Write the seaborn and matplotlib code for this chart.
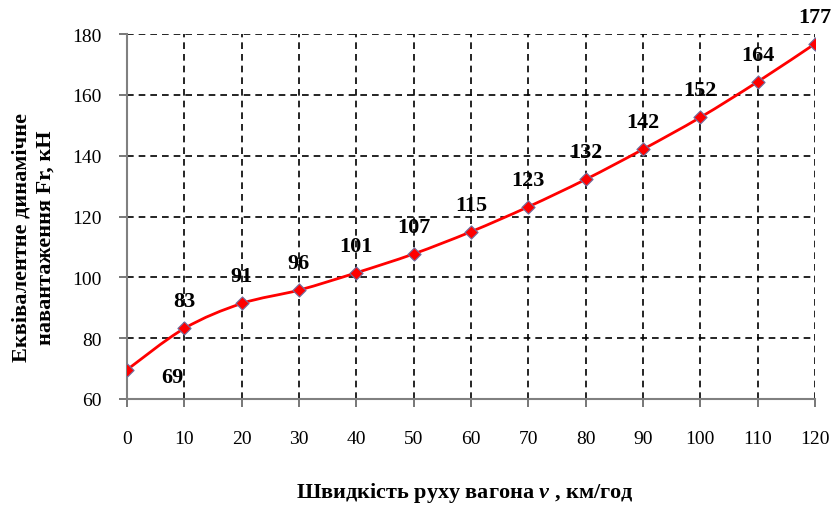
import matplotlib
matplotlib.use("Agg")
import matplotlib.pyplot as plt
import seaborn as sns
import numpy as np
import pandas as pd
from matplotlib.path import Path
from matplotlib.patches import PathPatch

speed = [0, 10, 20, 30, 40, 50, 60, 70, 80, 90, 100, 110, 120]
force = [69.6, 83.2, 91.4, 95.8, 101.5, 107.7, 115.0, 123.2, 132.2, 142.1, 152.6, 164.3, 176.8]
labels = ["69", "83", "91", "96", "101", "107", "115", "123", "132", "142", "152", "164", "177"]
yticks = [60, 80, 100, 120, 140, 160, 180]
xticks = [0, 10, 20, 30, 40, 50, 60, 70, 80, 90, 100, 110, 120]


def smooth_path(x, y, t=1 / 6):
    # Catmull-Rom style bezier, like Excel's smoothed line
    x = np.asarray(x, float)
    y = np.asarray(y, float)
    verts = [(x[0], y[0])]
    codes = [Path.MOVETO]
    n = len(x)
    for i in range(n - 1):
        p0 = max(i - 1, 0)
        p3 = min(i + 2, n - 1)
        c1 = (x[i] + (x[i + 1] - x[p0]) * t, y[i] + (y[i + 1] - y[p0]) * t)
        c2 = (x[i + 1] - (x[p3] - x[i]) * t, y[i + 1] - (y[p3] - y[i]) * t)
        verts += [c1, c2, (x[i + 1], y[i + 1])]
        codes += [Path.CURVE4] * 3
    return Path(verts, codes)


def main():
    sns.set_style("white")
    plt.rcParams["font.family"] = ["Liberation Serif", "DejaVu Serif"]
    plt.rcParams["text.color"] = "black"
    plt.rcParams["mathtext.fontset"] = "custom"
    plt.rcParams["mathtext.bfit"] = "Liberation Serif:italic:bold"

    df = pd.DataFrame({"speed": speed, "force": force})

    fig = plt.figure(figsize=(8.32, 5.06), dpi=100)
    ax = fig.add_axes([0.1526, 0.2095, 0.827, 0.7213])

    ax.add_patch(PathPatch(smooth_path(speed, force), fill=False,
                           edgecolor="#ff0000", lw=2, zorder=3))
    sns.scatterplot(data=df, x="speed", y="force", ax=ax, marker="D", s=45,
                    color="#ff0000", edgecolor="#7070a0", linewidth=0.8, zorder=4)

    for i, (xv, yv, lab) in enumerate(zip(speed, force, labels)):
        offset = (45, -7) if i == 0 else (0, 27)
        ax.annotate(lab, (xv, yv), xytext=offset, textcoords="offset pixels",
                    ha="center", va="center", fontsize=16, fontweight="bold",
                    color="black")

    ax.set_xlim(0, 120)
    ax.set_ylim(60, 180)
    ax.set_xticks(xticks)
    ax.set_yticks(yticks)
    ax.grid(True, color="black", linestyle=(0, (4, 3)), linewidth=1.2)
    ax.set_axisbelow(True)

    for side in ["top", "right"]:
        ax.spines[side].set_visible(False)
    for side in ["left", "bottom"]:
        ax.spines[side].set_color("#808080")
        ax.spines[side].set_linewidth(1.5)

    ax.tick_params(axis="both", direction="out", length=6, width=1.2,
                   color="#606060", labelsize=14, labelcolor="black",
                   left=True, bottom=True)
    ax.tick_params(axis="x", pad=16)
    ax.tick_params(axis="y", pad=12)
    ax.set_xlabel("")
    ax.set_ylabel("")

    fig.text(0.559, 0.0257, "Швидкість руху вагона $\\mathbfit{v}$ , км/год",
             fontsize=16, fontweight="bold", ha="center", va="center")
    fig.text(0.040, 0.53, "Еквівалентне динамічне\nнавантаження Fr, кН",
             fontsize=16, fontweight="bold", ha="center", va="center",
             rotation=90, linespacing=1.25)

    plt.savefig("out.png", dpi=100)


if __name__ == "__main__":
    main()
